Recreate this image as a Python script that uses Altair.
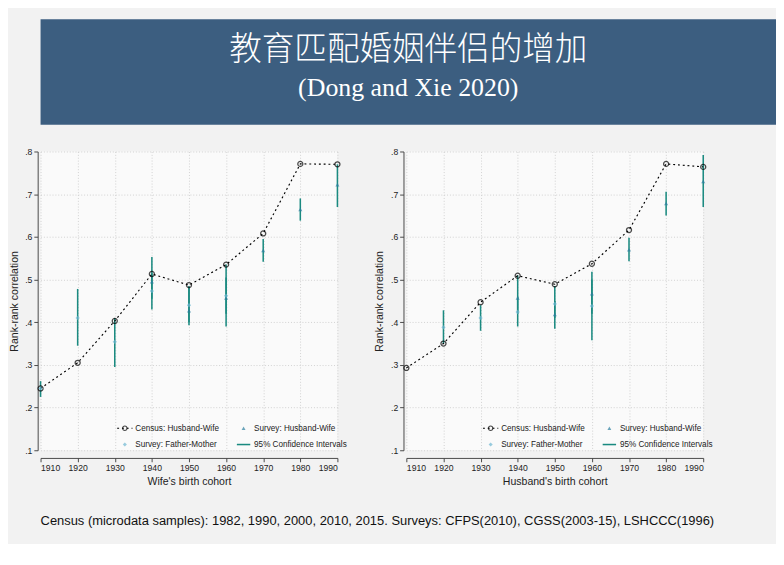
import altair as alt
import pandas as pd

cohorts = [1910, 1920, 1930, 1940, 1950, 1960, 1970, 1980, 1990]

# Wife's birth cohort panel
w_census = [0.245, 0.305, 0.403, 0.513, 0.487, 0.535, 0.608, 0.771, 0.770]
w_hw_cohort = [1940, 1950, 1960, 1970, 1980, 1990]
w_hw = [0.495, 0.427, 0.457, 0.568, 0.664, 0.722]
w_hw_lo = [0.455, 0.393, 0.390, 0.542, 0.638, 0.670]
w_hw_hi = [0.553, 0.480, 0.535, 0.595, 0.690, 0.770]
w_fm_cohort = [1910, 1920, 1930, 1940, 1950, 1960]
w_fm = [0.245, 0.410, 0.354, 0.473, 0.440, 0.462]
w_fm_lo = [0.225, 0.345, 0.295, 0.430, 0.400, 0.420]
w_fm_hi = [0.262, 0.478, 0.410, 0.515, 0.485, 0.505]

# Husband's birth cohort panel
h_census = [0.293, 0.350, 0.447, 0.509, 0.489, 0.537, 0.616, 0.771, 0.764]
h_hw_cohort = [1940, 1950, 1960, 1970, 1980, 1990]
h_hw = [0.457, 0.418, 0.467, 0.570, 0.678, 0.730]
h_hw_lo = [0.420, 0.385, 0.420, 0.543, 0.650, 0.670]
h_hw_hi = [0.510, 0.450, 0.518, 0.598, 0.706, 0.792]
h_fm_cohort = [1920, 1930, 1940, 1950, 1960]
h_fm = [0.388, 0.410, 0.424, 0.443, 0.438]
h_fm_lo = [0.350, 0.380, 0.390, 0.410, 0.358]
h_fm_hi = [0.428, 0.440, 0.460, 0.485, 0.500]

y_ticks = [round(0.1 + 0.05 * i, 2) for i in range(15)]

FONT = "Liberation Sans"
CI_COLOR = "#1A8A80"
HW_COLOR = "#2C7FA0"
FM_COLOR = "#6DB6D2"
W, H = 310, 312


def panel(census, hw_c, hw, hw_lo, hw_hi, fm_c, fm, fm_lo, fm_hi, xtitle):
    cdf = pd.DataFrame({"cohort": cohorts, "r": census})
    hdf = pd.DataFrame({"cohort": hw_c, "r": hw, "lo": hw_lo, "hi": hw_hi})
    fdf = pd.DataFrame({"cohort": fm_c, "r": fm, "lo": fm_lo, "hi": fm_hi})
    x = alt.X(
        "cohort:Q",
        scale=alt.Scale(domain=[1910, 1990], nice=False, zero=False),
        title=xtitle,
        axis=alt.Axis(values=cohorts, format="d", offset=8, grid=True, labelOverlap=False),
    )
    y = alt.Y(
        "r:Q",
        scale=alt.Scale(domain=[0.1, 0.8], nice=False, zero=False),
        title="Rank-rank correlation",
        axis=alt.Axis(
            values=y_ticks,
            labelExpr="replace(format(datum.value, '.2~f'), '0.', '.')",
            offset=3,
            grid=True,
            labelOverlap=False,
        ),
    )
    ci_h = alt.Chart(hdf).mark_rule(color=CI_COLOR, strokeWidth=1.6).encode(
        x=x, y=alt.Y("lo:Q", scale=alt.Scale(domain=[0.1, 0.8])), y2="hi:Q"
    )
    ci_f = alt.Chart(fdf).mark_rule(color=CI_COLOR, strokeWidth=1.6).encode(
        x=x, y=alt.Y("lo:Q", scale=alt.Scale(domain=[0.1, 0.8])), y2="hi:Q"
    )
    line = alt.Chart(cdf).mark_line(color="black", strokeDash=[2, 3], strokeWidth=1.2).encode(x=x, y=y)
    cpts = alt.Chart(cdf).mark_point(shape="circle", size=28, color="black", strokeWidth=1.3, filled=False).encode(x=x, y=y)
    hpts = alt.Chart(hdf).mark_point(shape="triangle-up", size=18, color=HW_COLOR, filled=True).encode(x=x, y=y)
    fpts = alt.Chart(fdf).mark_point(shape="diamond", size=20, color=FM_COLOR, filled=True).encode(x=x, y=y)

    one = pd.DataFrame({"a": [0]})
    lg = []
    lg.append(alt.Chart(one).mark_rule(color="black", strokeDash=[2, 3], strokeWidth=1.2).encode(
        x=alt.value(80), x2=alt.value(96), y=alt.value(289)))
    lg.append(alt.Chart(one).mark_point(shape="circle", size=22, color="black", filled=False, strokeWidth=1.2).encode(
        x=alt.value(88), y=alt.value(289)))
    lg.append(alt.Chart(one).mark_point(shape="diamond", size=18, color=FM_COLOR, filled=True).encode(
        x=alt.value(88), y=alt.value(306)))
    lg.append(alt.Chart(one).mark_point(shape="triangle-up", size=16, color=HW_COLOR, filled=True).encode(
        x=alt.value(212), y=alt.value(289)))
    lg.append(alt.Chart(one).mark_rule(color=CI_COLOR, strokeWidth=1.6).encode(
        x=alt.value(205), x2=alt.value(219), y=alt.value(306)))
    for txt, px, py in [
        ("Census: Husband-Wife", 99, 289),
        ("Survey: Father-Mother", 99, 306),
        ("Survey: Husband-Wife", 223, 289),
        ("95% Confidence Intervals", 223, 306),
    ]:
        lg.append(alt.Chart(pd.DataFrame({"t": [txt]})).mark_text(
            align="left", baseline="middle", font=FONT, fontSize=8.5, color="#222"
        ).encode(text="t:N", x=alt.value(px), y=alt.value(py)))

    return alt.layer(ci_h, ci_f, line, cpts, hpts, fpts, *lg).properties(
        width=W, height=H, view=alt.ViewBackground(fill="#FAFAFA", stroke=None)
    )


left = panel(w_census, w_hw_cohort, w_hw, w_hw_lo, w_hw_hi, w_fm_cohort, w_fm, w_fm_lo, w_fm_hi,
             "Wife's birth cohort")
right = panel(h_census, h_hw_cohort, h_hw, h_hw_lo, h_hw_hi, h_fm_cohort, h_fm, h_fm_lo, h_fm_hi,
              "Husband's birth cohort")

one = pd.DataFrame({"a": [0]})
band = alt.Chart(one).mark_rect(color="#3C5E80").encode(
    x=alt.value(0), x2=alt.value(768), y=alt.value(0), y2=alt.value(110))
t1 = alt.Chart(pd.DataFrame({"t": ["教育匹配婚姻伴侣的增加"]})).mark_text(
    font="Noto Sans CJK SC", fontSize=34, fontWeight=300, color="white"
).encode(text="t:N", x=alt.value(384), y=alt.value(32))
t2 = alt.Chart(pd.DataFrame({"t": ["(Dong and Xie 2020)"]})).mark_text(
    font="Liberation Serif", fontSize=27, color="white"
).encode(text="t:N", x=alt.value(384), y=alt.value(72))
header = alt.layer(band, t1, t2).properties(width=768, height=110,
                                            view=alt.ViewBackground(stroke=None))

footer = alt.Chart(pd.DataFrame({"t": [
    "Census (microdata samples): 1982, 1990, 2000, 2010, 2015. Surveys: CFPS(2010), CGSS(2003-15), LSHCCC(1996)"
]})).mark_text(align="left", baseline="middle", font=FONT, fontSize=13.5, color="#111").encode(
    text="t:N", x=alt.value(0), y=alt.value(12)
).properties(width=768, height=24, view=alt.ViewBackground(stroke=None))

panels = alt.hconcat(left, right, spacing=28)

chart = alt.vconcat(header, panels, footer, spacing=24).properties(
    padding=0, background="#F2F2F2"
).configure_axis(
    labelFont=FONT, titleFont=FONT, labelFontSize=9, titleFontSize=11,
    titleFontWeight="normal", labelColor="#222", titleColor="#222",
    domainColor="#444", tickColor="#444", tickSize=4,
    gridColor="#CFCFCF", gridDash=[1, 2],
).configure_axisY(titlePadding=6)

chart.save("out.html", embed_options={"renderer": "svg", "actions": False})
